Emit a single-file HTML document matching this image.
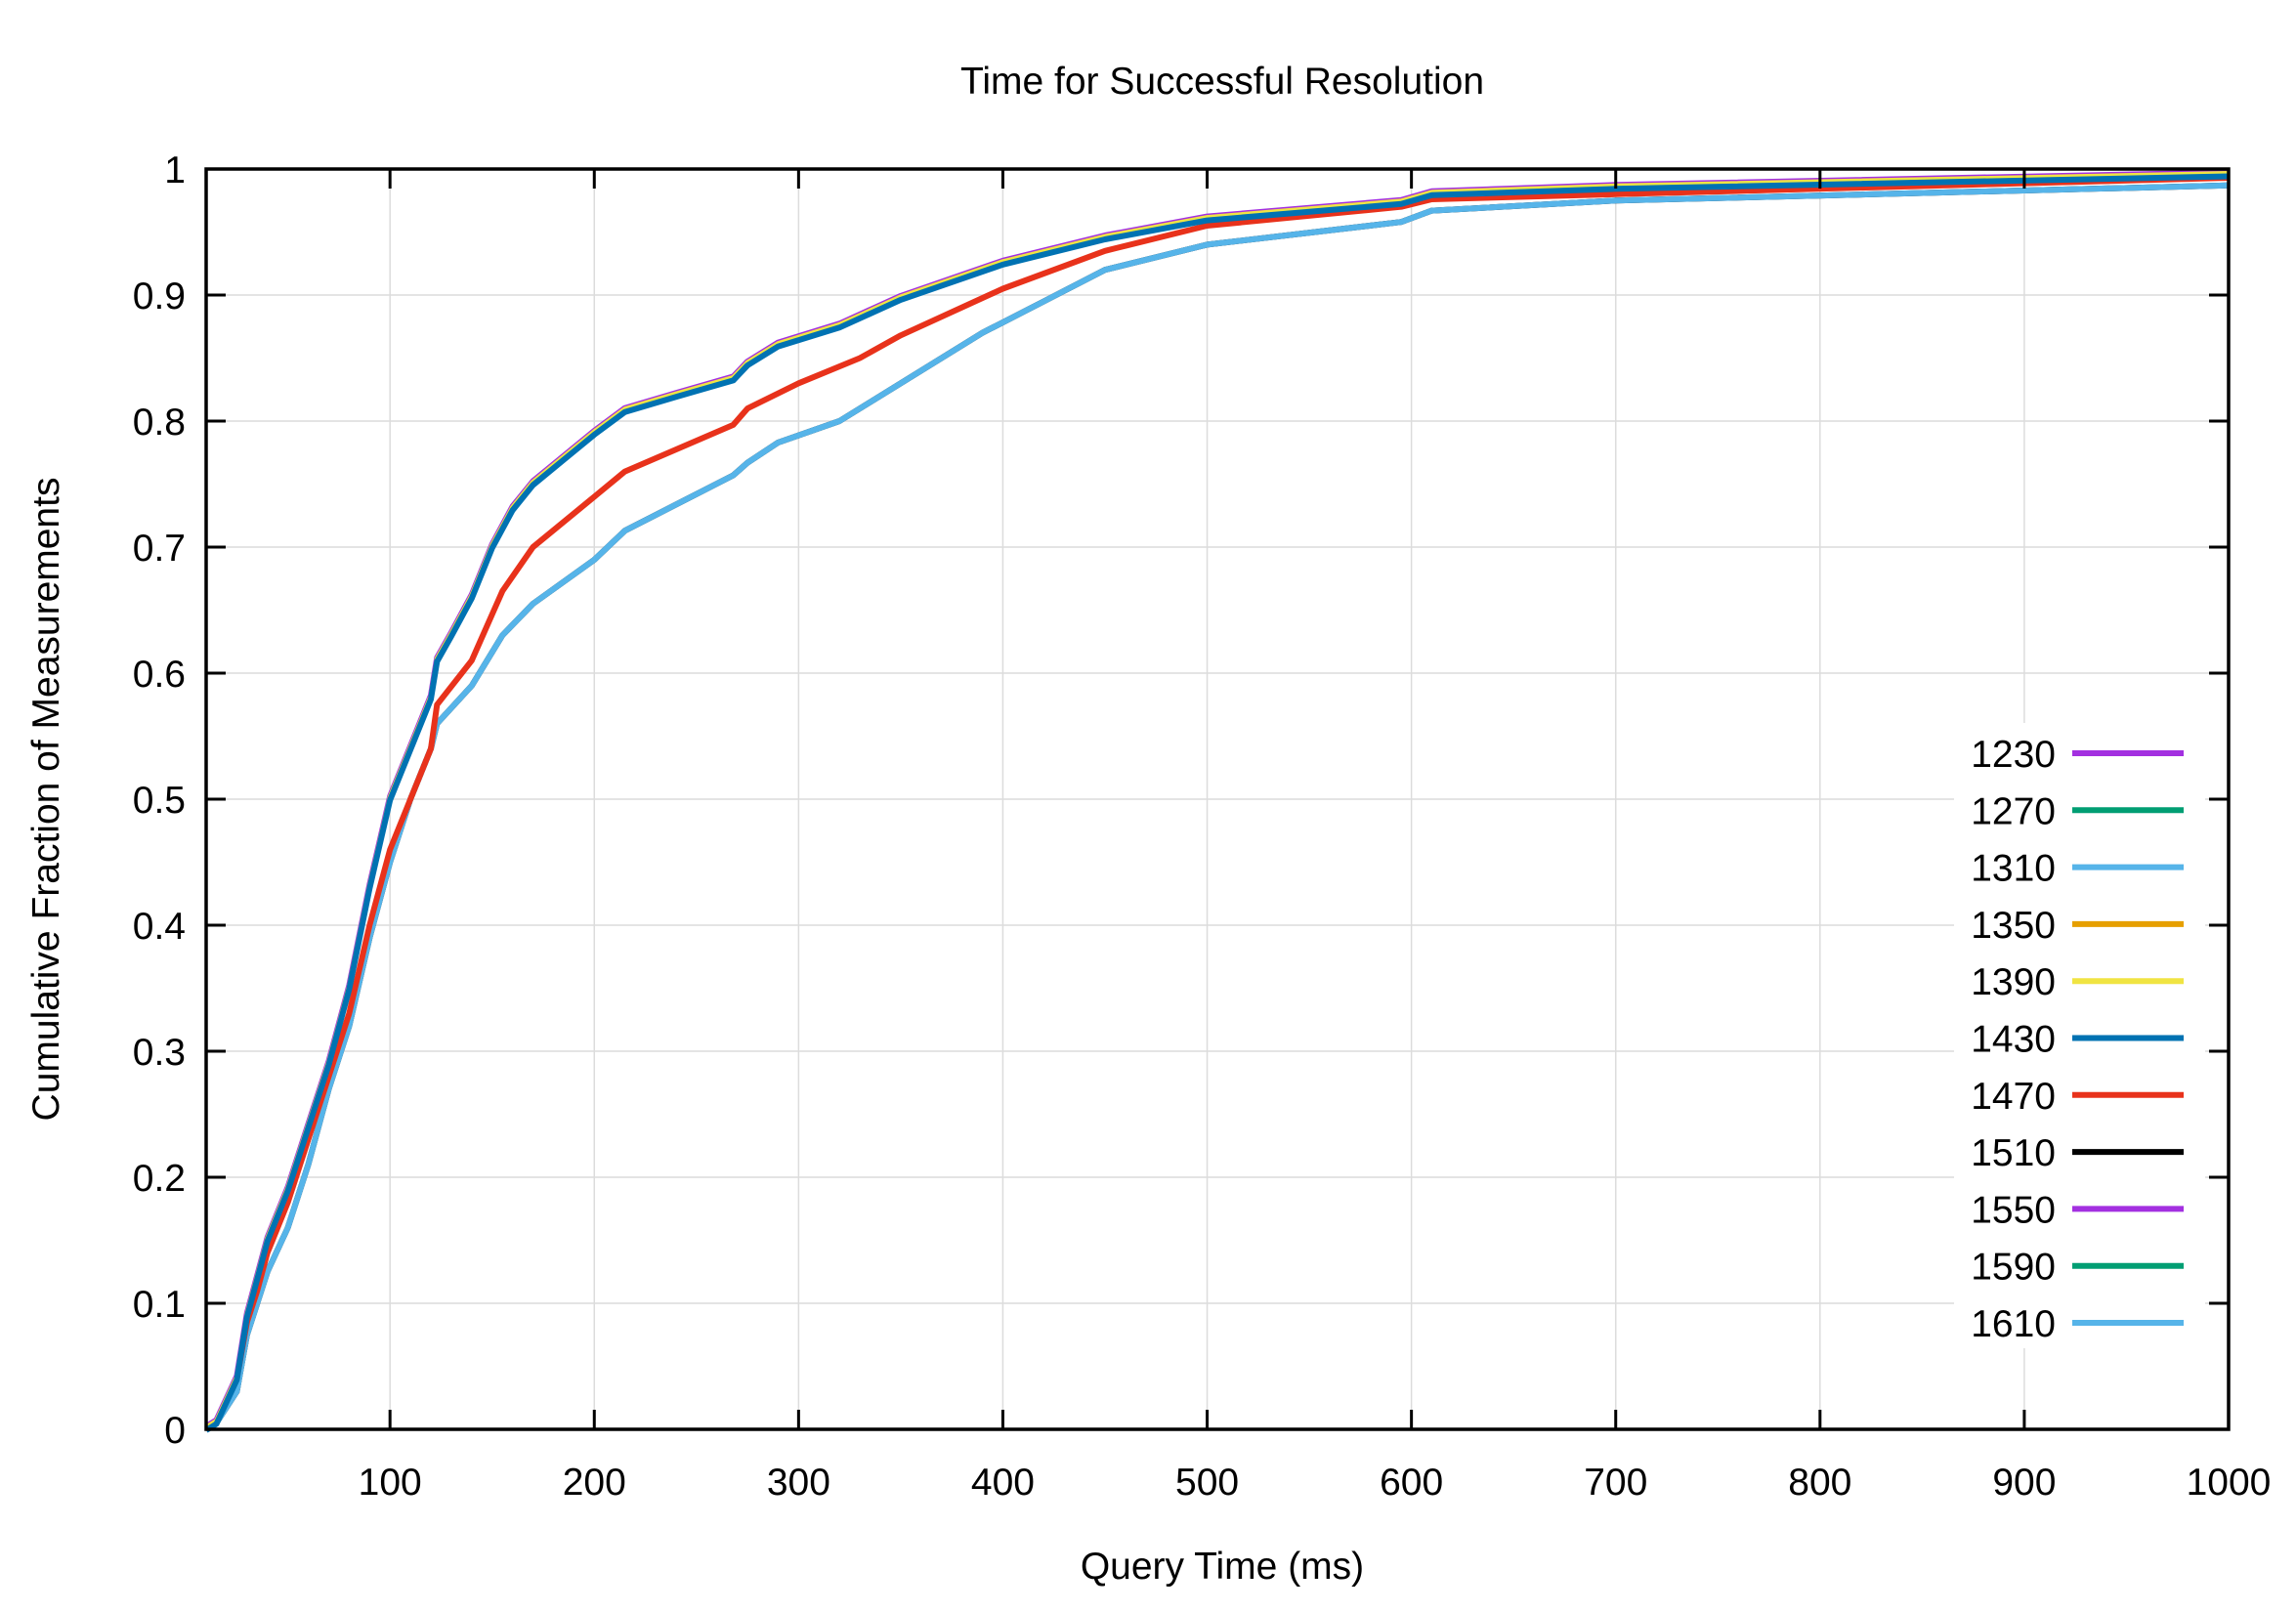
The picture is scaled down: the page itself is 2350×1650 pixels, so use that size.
<!DOCTYPE html>
<html><head><meta charset="utf-8"><style>
html,body{margin:0;padding:0;background:#fff}
svg{display:block}
text{font-family:"Liberation Sans",Arial,sans-serif;fill:#000}
</style></head><body>
<svg id="s" width="2350" height="1650" xmlns="http://www.w3.org/2000/svg"></svg>
<script>
(function(){
var s=document.getElementById('s');
var X0=211,X1=2281,Y0=1463,Y1=173;
function px(v){return X0+(v-10)*(X1-X0)/990;}
function py(f){return Y0-f*(Y0-Y1);}
var h='<rect width="2350" height="1650" fill="#fff"/>';
for(var v=100;v<1000;v+=100)h+='<line x1="'+px(v)+'" y1="'+Y1+'" x2="'+px(v)+'" y2="'+Y0+'" stroke="#dcdcdc" stroke-width="1.5"/>';
for(var i=1;i<10;i++)h+='<line x1="'+X0+'" y1="'+py(i/10)+'" x2="'+X1+'" y2="'+py(i/10)+'" stroke="#dcdcdc" stroke-width="1.5"/>';
var hi=[[10,0],[15,0.005],[25,0.04],[30,0.09],[35,0.12],[40,0.15],[50,0.19],[60,0.24],[70,0.29],[80,0.35],[90,0.43],[100,0.50],[110,0.54],[120,0.58],[123,0.61],[130,0.63],[140,0.66],[150,0.70],[160,0.73],[170,0.75],[185,0.77],[200,0.79],[215,0.808],[240,0.82],[268,0.833],[275,0.845],[290,0.86],[320,0.875],[350,0.897],[400,0.925],[450,0.945],[500,0.96],[595,0.973],[610,0.98],[700,0.985],[1000,0.995]];
var red=[[10,0],[15,0.005],[25,0.04],[30,0.085],[35,0.11],[40,0.14],[50,0.18],[60,0.23],[70,0.28],[80,0.33],[90,0.40],[100,0.46],[110,0.50],[120,0.54],[123,0.575],[140,0.61],[155,0.665],[170,0.70],[200,0.74],[215,0.76],[268,0.797],[275,0.81],[300,0.83],[330,0.85],[350,0.868],[400,0.905],[450,0.935],[500,0.955],[595,0.97],[610,0.976],[700,0.98],[1000,0.993]];
var low=[[10,0],[15,0.005],[25,0.03],[30,0.075],[35,0.10],[40,0.125],[50,0.16],[60,0.21],[70,0.27],[80,0.32],[90,0.39],[100,0.45],[110,0.50],[120,0.54],[123,0.56],[140,0.59],[155,0.63],[170,0.655],[200,0.69],[215,0.713],[268,0.757],[275,0.767],[290,0.783],[320,0.80],[350,0.83],[390,0.87],[420,0.895],[450,0.92],[500,0.94],[595,0.958],[610,0.967],[700,0.975],[1000,0.987]];
function pl(d,c,w,dy){return '<polyline fill="none" stroke="'+c+'" stroke-width="'+w+'" stroke-linejoin="round" points="'+d.map(function(p){return px(p[0]).toFixed(1)+','+(py(p[1])+dy).toFixed(1);}).join(' ')+'"/>';}
h+=pl(low,'#000',6,0)+pl(low,'#56b4e9',6,0);
h+=pl(red,'#e8321b',6,0);
h+=pl(hi,'#a330e0',6,-3)+pl(hi,'#009e73',5,-1)+pl(hi,'#e69f00',5,0)+pl(hi,'#f0e442',5,-2)+pl(hi,'#0072b2',6,1);
h+='<rect x="'+X0+'" y="'+Y1+'" width="'+(X1-X0)+'" height="'+(Y0-Y1)+'" fill="none" stroke="#000" stroke-width="3.5"/>';
for(v=100;v<1000;v+=100){h+='<line x1="'+px(v)+'" y1="'+Y0+'" x2="'+px(v)+'" y2="'+(Y0-20)+'" stroke="#000" stroke-width="3"/><line x1="'+px(v)+'" y1="'+Y1+'" x2="'+px(v)+'" y2="'+(Y1+20)+'" stroke="#000" stroke-width="3"/>';}
for(v=100;v<=1000;v+=100)h+='<text x="'+px(v)+'" y="1530" font-size="39" text-anchor="middle">'+v+'</text>';
for(i=0;i<=10;i++){var y=py(i/10);if(i>0&&i<10)h+='<line x1="'+X0+'" y1="'+y+'" x2="'+(X0+20)+'" y2="'+y+'" stroke="#000" stroke-width="3"/><line x1="'+X1+'" y1="'+y+'" x2="'+(X1-20)+'" y2="'+y+'" stroke="#000" stroke-width="3"/>';
h+='<text x="190" y="'+(y+14)+'" font-size="39" text-anchor="end">'+(i==0?'0':i==10?'1':'0.'+i)+'</text>';}
h+='<rect x="2000" y="740" width="257" height="640" fill="#fff"/>';
var L=[['1230','#a330e0'],['1270','#009e73'],['1310','#56b4e9'],['1350','#e69f00'],['1390','#f0e442'],['1430','#0072b2'],['1470','#e8321b'],['1510','#000'],['1550','#a330e0'],['1590','#009e73'],['1610','#56b4e9']];
L.forEach(function(e,i){var y=771+i*58.3;h+='<text x="2104" y="'+(y+14)+'" font-size="39" text-anchor="end">'+e[0]+'</text><line x1="2121" y1="'+y+'" x2="2235" y2="'+y+'" stroke="'+e[1]+'" stroke-width="6"/>';});
h+='<text x="1251" y="96" font-size="39" text-anchor="middle">Time for Successful Resolution</text>';
h+='<text x="1251" y="1616" font-size="39" text-anchor="middle">Query Time (ms)</text>';
h+='<text transform="translate(60,818) rotate(-90)" font-size="39" text-anchor="middle">Cumulative Fraction of Measurements</text>';
s.innerHTML=h;
})();
</script>
</body></html>
